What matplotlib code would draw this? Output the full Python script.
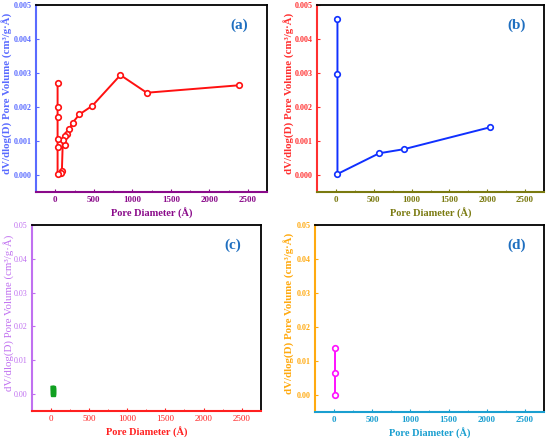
import matplotlib
matplotlib.use("Agg")
import matplotlib.pyplot as plt
from matplotlib.ticker import MultipleLocator, FormatStrFormatter

# ── data ────────────────────────────────────────────────────────────────────
a_x = [2389, 1188, 846, 483, 312, 226, 180, 150, 124, 124, 98, 86, 70, 30, 30, 30, 30, 30, 30]
a_y = [0.00264, 0.00242, 0.00294, 0.00204, 0.00178, 0.00154, 0.00134, 0.00122,
       0.00116, 0.00087, 0.00102, 0.00013, 0.00005, 0.00002, 0.00082, 0.00107,
       0.00171, 0.00199, 0.00270]

b_x = [2030, 900, 572, 20, 20, 20]
b_y = [0.00140, 0.00076, 0.00064, 0.00003, 0.00298, 0.00458]

c_x = [22, 24, 26, 28, 30, 32]
c_y = [0.0019, 0.0015, 0.0011, 0.0007, 0.0004, 0.0001]

d_x = [15, 15, 15]
d_y = [0.0000, 0.0066, 0.0139]

FONT = "Liberation Serif"
plt.rcParams.update({
    "font.family": FONT,
    "font.weight": "bold",
})

YLABEL = "dV/dlog(D) Pore Volume (cm³/g·Å)"
XLABEL = "Pore Diameter (Å)"
C_TAG = "#1f6fc0"

panels = [
    # rect, x, y, line colour, marker, left colour, bottom colour, ylim, ystep,
    # fmt, tag, weight, ylabel x position
    ([0.0655, 0.5636, 0.420, 0.425], a_x, a_y, "#ff1010", "o", "#5a6bff", "#8a0a8a",
     (-0.0005, 0.005), 0.001, "%.3f", "(a)", "bold", -0.100),
    ([0.5764, 0.5636, 0.4127, 0.425], b_x, b_y, "#1030ff", "o", "#ff3030", "#7a7a10",
     (-0.0005, 0.005), 0.001, "%.3f", "(b)", "bold", -0.097),
    ([0.058, 0.0659, 0.416, 0.4227], c_x, c_y, "#10a020", "s", "#c070f0", "#ff2020",
     (-0.005, 0.05), 0.01, "%.2f", "(c)", "normal", -0.078),
    ([0.5727, 0.0636, 0.4164, 0.425], d_x, d_y, "#ff10ff", "o", "#ffaa10", "#1a9fd0",
     (-0.005, 0.05), 0.01, "%.2f", "(d)", "bold", -0.088),
]

fig = plt.figure(figsize=(5.5, 4.4), dpi=100)

for rect, xs, ys, lc, mk, cl, cb, ylim, ystep, fmt, tag, wt, ylx in panels:
    ax = fig.add_axes(rect)
    if mk == "s":
        ax.plot(xs, ys, color=lc, lw=3, marker=mk, ms=3.5, mfc=lc, mec=lc)
    else:
        ax.plot(xs, ys, color=lc, lw=1.4, marker=mk, ms=4, mfc="white",
                mec=lc, mew=1.2)

    ax.set_xlim(-250, 2750)
    ax.set_ylim(*ylim)
    ax.xaxis.set_major_locator(MultipleLocator(500))
    ax.xaxis.set_minor_locator(MultipleLocator(250))
    ax.yaxis.set_major_locator(MultipleLocator(ystep))
    ax.yaxis.set_major_formatter(FormatStrFormatter(fmt))

    for s in ("top", "right"):
        ax.spines[s].set_color("black")
        ax.spines[s].set_linewidth(1.3)
    ax.spines["left"].set_color(cl)
    ax.spines["left"].set_linewidth(1.5)
    ax.spines["bottom"].set_color(cb)
    ax.spines["bottom"].set_linewidth(1.5)

    ax.tick_params(axis="x", which="both", direction="in", colors=cb,
                   labelsize=6.5, length=2.5, pad=3)
    ax.tick_params(axis="x", which="minor", length=1.5)
    ax.tick_params(axis="y", which="both", direction="in", colors=cl,
                   labelsize=5.8, length=2.5, pad=3)
    for lab in ax.get_xticklabels() + ax.get_yticklabels():
        lab.set_fontweight(wt)

    ax.set_xlabel(XLABEL, color=cb, fontsize=7.5, fontweight="bold", labelpad=3)
    ax.set_ylabel(YLABEL, color=cl, fontsize=7.8, fontweight=wt)
    ax.yaxis.set_label_coords(ylx, 0.53)

    ax.text(0.88, 0.89, tag, transform=ax.transAxes, ha="center", va="center",
            fontsize=11, fontweight="bold", color=C_TAG)

plt.savefig("out.png", dpi=100)
plt.close()
